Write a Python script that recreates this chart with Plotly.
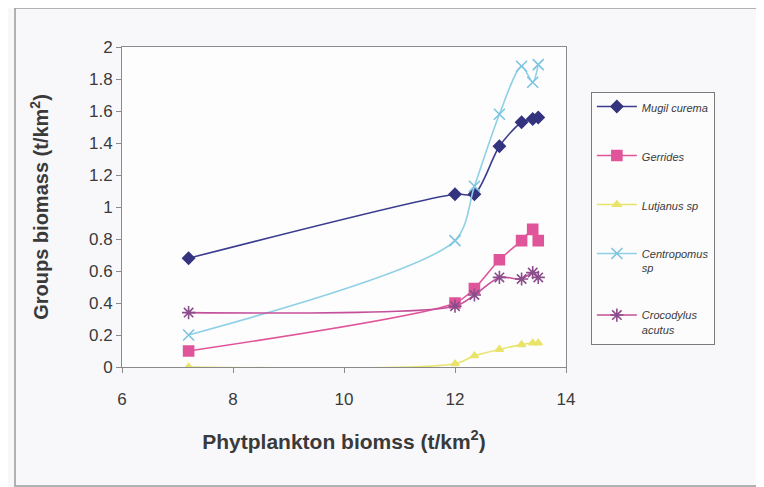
import plotly.graph_objects as go

# phytoplankton biomass scenarios (t/km2)
phyto = [7.2, 12.0, 12.35, 12.8, 13.2, 13.4, 13.5]

# group biomass (t/km2) for each scenario
mugil = [0.68, 1.08, 1.08, 1.38, 1.53, 1.55, 1.56]
gerrides = [0.10, 0.40, 0.49, 0.67, 0.79, 0.86, 0.79]
lutjanus = [0.0, 0.02, 0.07, 0.11, 0.14, 0.15, 0.15]
centropomus = [0.20, 0.79, 1.13, 1.58, 1.88, 1.78, 1.89]
crocodylus = [0.34, 0.38, 0.45, 0.56, 0.55, 0.59, 0.56]

names = ["Mugil curema", "Gerrides", "Lutjanus sp", "Centropomus<br>sp", "Crocodylus<br>acutus"]
series = [mugil, gerrides, lutjanus, centropomus, crocodylus]
line_colors = ["#3b3b8f", "#e0559a", "#e8e46a", "#8fd0e6", "#c4509a"]
marker_colors = ["#33337f", "#e0559a", "#eae36a", "#7cc4e0", "#8a4c8a"]
symbols = ["diamond", "square", "triangle-up", "x-thin-open", "asterisk-open"]
sizes = [9, 10, 7, 11, 11]

fig = go.Figure()
for i, (nm, ys) in enumerate(zip(names, series)):
    fig.add_trace(go.Scatter(
        x=phyto, y=ys, name=nm, mode="lines+markers",
        legendgroup=str(i),
        line=dict(color=line_colors[i], width=1.6, shape="spline", smoothing=0.8),
        marker=dict(symbol=symbols[i], size=sizes[i], color=marker_colors[i],
                    line=dict(color=marker_colors[i], width=1.6)),
    ))

# outer chart frame
fig.add_shape(type="rect", xref="paper", yref="paper",
              x0=-0.241, x1=1.46, y0=-0.372, y1=1.122,
              line=dict(color="#9a9a9a", width=1.5), fillcolor="rgba(0,0,0,0)")

fig.update_layout(
    width=764, height=487,
    margin=dict(l=114, r=206, t=39, b=128),
    paper_bgcolor="#f8f8fa", plot_bgcolor="#fdfdfe",
    font=dict(family="Liberation Sans, Arial", color="#3a3a3a"),
    showlegend=True,
    legend=dict(x=1.056, y=0.86, xanchor="left", yanchor="top", valign="top",
                bgcolor="#fcfcfd", bordercolor="#7a7a7a", borderwidth=1,
                font=dict(size=11, family="Liberation Sans, Arial", style="italic"),
                tracegroupgap=30, itemwidth=40, entrywidth=112),
    xaxis=dict(range=[6, 14], dtick=2, showgrid=False, zeroline=False,
               ticks="outside", ticklen=5, tickcolor="#8a8a8a",
               showline=True, linecolor="#8a8a8a", mirror=True,
               ticklabelstandoff=12,
               tickfont=dict(size=17, color="#3a3a3a"),
               title=dict(text="<b>Phytplankton biomss (t/km<sup>2</sup>)</b>",
                          font=dict(size=21), standoff=25)),
    yaxis=dict(range=[0, 2], dtick=0.2, showgrid=False, zeroline=False,
               ticks="outside", ticklen=5, tickcolor="#8a8a8a",
               showline=True, linecolor="#8a8a8a", mirror=True,
               tickfont=dict(size=17, color="#3a3a3a"),
               title=dict(text="<b>Groups biomass (t/km<sup>2</sup>)</b>",
                          font=dict(size=20), standoff=34)),
)

fig.write_html("out.html")
